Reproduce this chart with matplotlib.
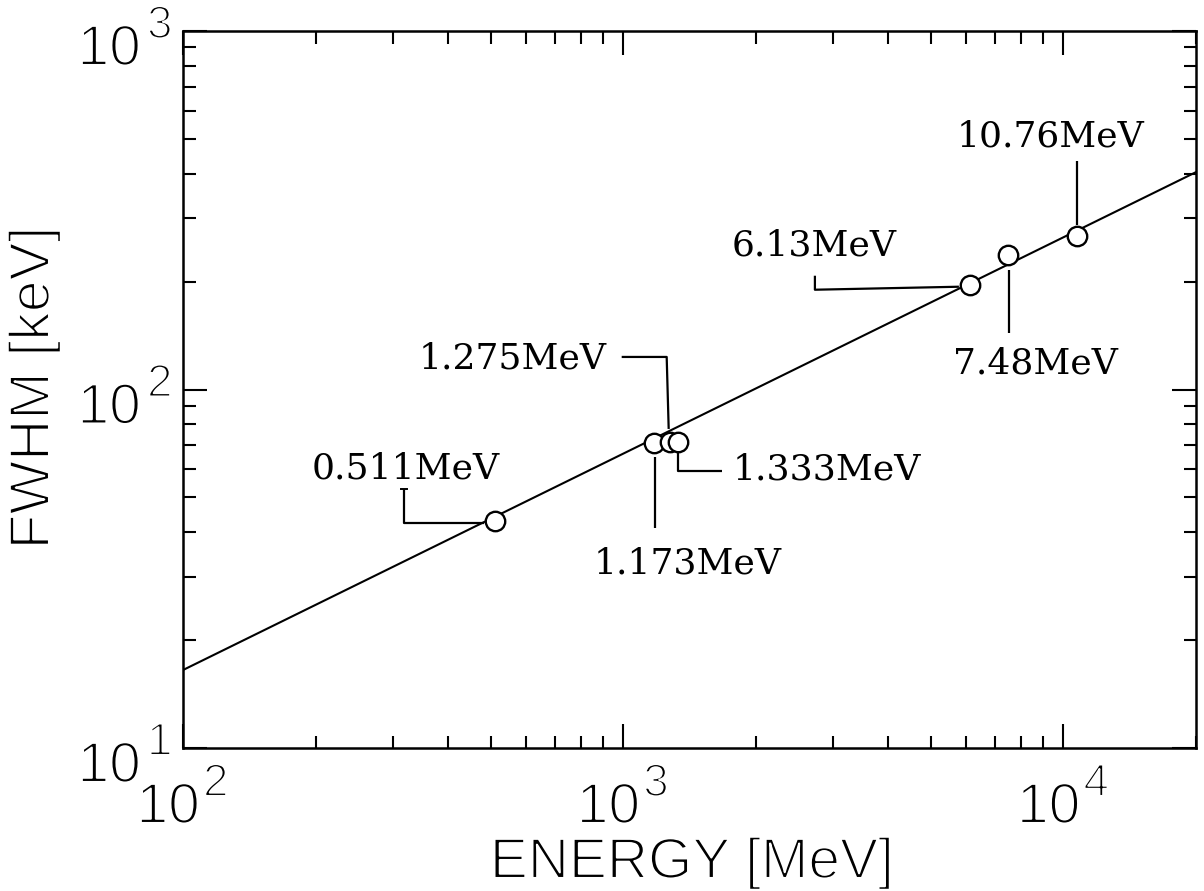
import matplotlib
matplotlib.use("Agg")
import matplotlib.pyplot as plt
from matplotlib import patheffects as pe
from matplotlib.ticker import LogLocator, NullFormatter, FixedLocator
from matplotlib.transforms import offset_copy

# Measured peaks: gamma energy (keV) and detector resolution FWHM (keV)
energy_kev = [511, 1173, 1275, 1333, 6130, 7480, 10760]
fwhm_kev = [43.0, 70.8, 71.4, 71.3, 196.0, 237.0, 268.0]
peak_labels = ["0.511MeV", "1.173MeV", "1.275MeV", "1.333MeV",
               "6.13MeV", "7.48MeV", "10.76MeV"]

# Power-law fit drawn across the full energy range
fit_energy = [100, 20000]
fit_fwhm = [16.5, 404.0]

x_ticks = [1e2, 1e3, 1e4]
x_tick_exponents = ["2", "3", "4"]
y_ticks = [1e1, 1e2, 1e3]
y_tick_exponents = ["1", "2", "3"]

# Label placement: text anchor offset and leader polyline, in pixels from the peak
label_layout = {
    "0.511MeV": ((-89, 42), [(-91, 32), (-91, -2), (-11, -2)]),
    "1.173MeV": ((34, -130), [(1, -14), (1, -85)]),
    "1.275MeV": ((-157, 73), [(-48, 85), (-3, 85), (-1, 13)]),
    "1.333MeV": ((149, -37), [(0, -10), (0, -29), (44, -29)]),
    "6.13MeV": ((-156, 29), [(-155, 9), (-155, -5), (-11, -2)]),
    "7.48MeV": ((27, -118), [(1, -15), (1, -78)]),
    "10.76MeV": ((-27, 90), [(0, 75), (0, 11)]),
}

plt.rcParams["font.family"] = ["Liberation Sans", "DejaVu Sans"]
# thin the sans glyphs by eroding their outline with a white stroke
THIN = [pe.Stroke(linewidth=1.5, foreground="white")]

fig = plt.figure(figsize=(12.04, 8.91), dpi=100)
W, H = 1204, 891
ax = fig.add_axes([183 / W, 1 - 748 / H, 1013 / W, 717 / H])

ax.set_xscale("log")
ax.set_yscale("log")
ax.set_xlim(100, 20000)
ax.set_ylim(10, 1000)

ax.plot(fit_energy, fit_fwhm, color="black", lw=1.5, zorder=2)
ax.plot(energy_kev, fwhm_kev, linestyle="none", marker="o", ms=14,
        mfc="white", mec="black", mew=1.7, zorder=3)

# Leaders and labels
to_data = ax.transData.inverted()
for e, f, lab in zip(energy_kev, fwhm_kev, peak_labels):
    (tdx, tdy), leader = label_layout[lab]
    px, py = ax.transData.transform((e, f))
    pts = [to_data.transform((px + dx, py + dy)) for dx, dy in leader]
    ax.plot([p[0] for p in pts], [p[1] for p in pts], color="black",
            lw=1.6, zorder=2, solid_capstyle="butt")
    tx, ty = to_data.transform((px + tdx, py + tdy))
    ax.text(tx, ty, lab, ha="center", va="baseline", fontsize=26,
            family="DejaVu Serif", color="black", zorder=4)

# small cross-bar at the top of the 0.511 MeV leader
px, py = ax.transData.transform((energy_kev[0], fwhm_kev[0]))
cb = [to_data.transform((px + dx, py + 32)) for dx in (-94, -88)]
ax.plot([cb[0][0], cb[1][0]], [cb[0][1], cb[1][1]], color="black", lw=1.4)

# Ticks
ax.xaxis.set_major_locator(FixedLocator(x_ticks))
ax.yaxis.set_major_locator(FixedLocator(y_ticks))
ax.xaxis.set_minor_locator(LogLocator(base=10, subs=range(2, 10)))
ax.yaxis.set_minor_locator(LogLocator(base=10, subs=range(2, 10)))
ax.xaxis.set_major_formatter(NullFormatter())
ax.yaxis.set_major_formatter(NullFormatter())
ax.xaxis.set_minor_formatter(NullFormatter())
ax.yaxis.set_minor_formatter(NullFormatter())

ax.tick_params(which="both", direction="in", top=True, right=True,
               width=1.5, colors="black")
ax.tick_params(which="major", length=17)
ax.tick_params(which="minor", length=9)

for s in ax.spines.values():
    s.set_linewidth(1.8)

# Power-of-ten tick labels: mantissa "10" with a raised exponent
BIG, SUP = 41, 33
xt = ax.get_xaxis_transform()
for v, ex in zip(x_ticks, x_tick_exponents):
    ax.text(v, 0, "10", fontsize=BIG, ha="right", va="baseline",
            transform=offset_copy(xt, fig=fig, x=17, y=-75, units="dots"),
            clip_on=False, path_effects=THIN)
    ax.text(v, 0, ex, fontsize=SUP, ha="left", va="baseline",
            transform=offset_copy(xt, fig=fig, x=20, y=-48, units="dots"),
            clip_on=False, path_effects=THIN)
yt = ax.get_yaxis_transform()
for v, ex in zip(y_ticks, y_tick_exponents):
    ax.text(0, v, "10", fontsize=BIG, ha="right", va="baseline",
            transform=offset_copy(yt, fig=fig, x=-42, y=-34, units="dots"),
            clip_on=False, path_effects=THIN)
    ax.text(0, v, ex, fontsize=SUP, ha="left", va="baseline",
            transform=offset_copy(yt, fig=fig, x=-36, y=-7, units="dots"),
            clip_on=False, path_effects=THIN)

ax.set_xlabel("ENERGY [MeV]", fontsize=41, va="baseline", path_effects=THIN)
ax.xaxis.set_label_coords((692 - 183) / 1013, (748 - 878) / 717)
ax.set_ylabel("FWHM [keV]", fontsize=41, va="center", ha="center",
              path_effects=THIN)
ax.yaxis.set_label_coords((34 - 183) / 1013, (748 - 388) / 717)

fig.savefig("out.png", dpi=100)
